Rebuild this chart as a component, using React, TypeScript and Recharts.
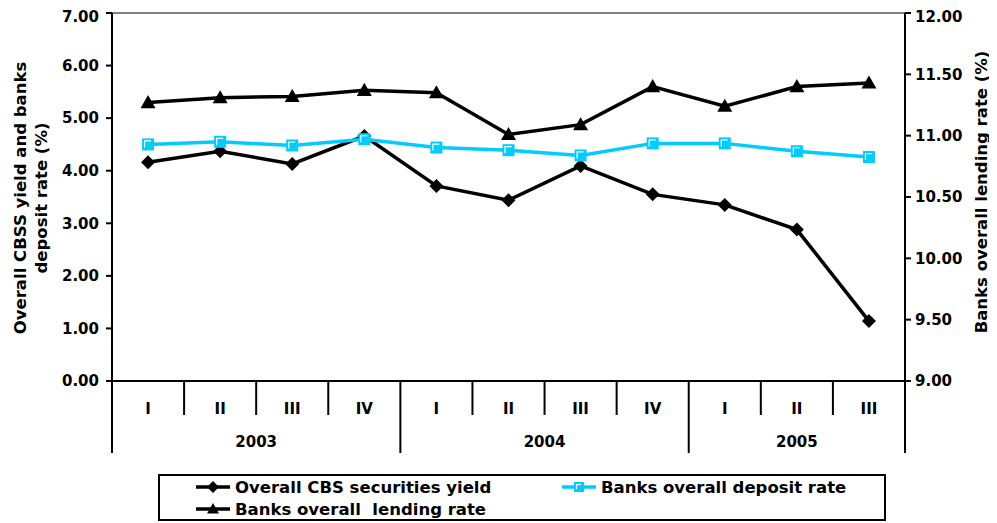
import React from 'react';
import {
  ComposedChart, Line, XAxis, YAxis, ReferenceLine,
} from 'recharts';

const quarters = ['I', 'II', 'III', 'IV', 'I', 'II', 'III', 'IV', 'I', 'II', 'III'];
const years = ['2003', '2003', '2003', '2003', '2004', '2004', '2004', '2004', '2005', '2005', '2005'];
const cbsYield = [4.16, 4.37, 4.13, 4.66, 3.71, 3.44, 4.09, 3.55, 3.35, 2.88, 1.14];
const depositRate = [4.5, 4.55, 4.48, 4.6, 4.44, 4.39, 4.29, 4.52, 4.52, 4.37, 4.26];
const lendingRate = [11.27, 11.31, 11.32, 11.37, 11.35, 11.01, 11.09, 11.4, 11.24, 11.4, 11.43];
const leftTicks = [0, 1, 2, 3, 4, 5, 6, 7];
const rightTicks = [9, 9.5, 10, 10.5, 11, 11.5, 12];

const data = quarters.map((q, i) => ({
  key: `${years[i]}-${q}-${i}`,
  quarter: q,
  year: years[i],
  cbs: cbsYield[i],
  deposit: depositRate[i],
  lending: lendingRate[i],
}));

const FONT = '"DejaVu Sans", Arial, sans-serif';
const CYAN = '#00CCFF';
const CHART_W = 981;
const CHART_H = 515;
const LEFT_W = 104;
const PLOT_W = 793;
const RIGHT_W = CHART_W - LEFT_W - PLOT_W;
// half of one category band
const HALF = PLOT_W / quarters.length / 2;

const Diamond = ({ cx, cy, s = 7 }: any) => (
  <path d={`M${cx},${cy - s}L${cx + s},${cy}L${cx},${cy + s}L${cx - s},${cy}Z`} fill="#000" />
);
const Triangle = ({ cx, cy, s = 7.5 }: any) => (
  <path d={`M${cx},${cy - s}L${cx + s},${cy + s * 0.75}L${cx - s},${cy + s * 0.75}Z`} fill="#000" />
);
const Square = ({ cx, cy, s = 6 }: any) => (
  <g>
    <rect x={cx - s} y={cy - s} width={s * 2} height={s * 2} fill={CYAN} />
    <path d={`M${cx - s + 2.5},${cy + s - 3}V${cy - s + 2.5}H${cx + s - 3}`} stroke="#fff" strokeWidth={1.2} fill="none" />
  </g>
);

const QuarterTick = (props: any) => {
  const { x, y, payload, index } = props;
  const i = index;
  const lastOfYear = i === years.length - 1 || years[i + 1] !== years[i];
  const firstOfYear = i === 0 || years[i - 1] !== years[i];
  let yearLabel = null;
  if (firstOfYear) {
    const count = years.filter((yy) => yy === years[i]).length;
    const cx = x - HALF + count * HALF;
    yearLabel = (
      <text x={cx} y={y + 66} textAnchor="middle" fontFamily={FONT} fontWeight="bold" fontSize={15} fill="#000">
        {years[i]}
      </text>
    );
  }
  return (
    <g>
      {i === 0 && <line x1={x - HALF} y1={y} x2={x - HALF} y2={y + 72} stroke="#000" strokeWidth={2} />}
      <line x1={x + HALF} y1={y} x2={x + HALF} y2={y + (lastOfYear ? 72 : 34)} stroke="#000" strokeWidth={2} />
      <text x={x} y={y + 33} textAnchor="middle" fontFamily={FONT} fontWeight="bold" fontSize={15} fill="#000">
        {payload.value}
      </text>
      {yearLabel}
    </g>
  );
};

const tickStyle = { fill: '#000', fontSize: 15, fontWeight: 'bold', fontFamily: FONT };

const LegendItem = ({ color, marker, label }: any) => (
  <div style={{ display: 'flex', alignItems: 'center', height: 22 }}>
    <svg width={34} height={16} style={{ marginRight: 5 }}>
      <line x1={0} y1={8} x2={34} y2={8} stroke={color} strokeWidth={3.5} />
      {marker === 'diamond' && <Diamond cx={17} cy={8} s={6} />}
      {marker === 'square' && <Square cx={17} cy={8} s={5} />}
      {marker === 'triangle' && <Triangle cx={17} cy={8} s={6} />}
    </svg>
    <span style={{ whiteSpace: 'pre' }}>{label}</span>
  </div>
);

const titleProps = {
  textAnchor: 'middle' as const,
  dominantBaseline: 'central' as const,
  fontFamily: FONT,
  fontWeight: 'bold',
  fontSize: 16.5,
  fill: '#000',
};

export default function App() {
  return (
    <div style={{ position: 'relative', width: CHART_W, height: CHART_H, fontFamily: FONT }}>
      <ComposedChart width={CHART_W} height={CHART_H} data={data} margin={{ top: 5, right: 0, bottom: 0, left: 0 }}>
        <XAxis
          dataKey="quarter"
          xAxisId="x"
          padding={{ left: HALF, right: HALF }}
          height={CHART_H - 373}
          tickSize={0}
          tickMargin={0}
          interval={0}
          axisLine={{ stroke: '#000', strokeWidth: 2 }}
          tickLine={false}
          tick={<QuarterTick />}
        />
        <YAxis
          yAxisId="left"
          domain={[0, 7]}
          ticks={leftTicks}
          width={LEFT_W}
          tickSize={6}
          tickMargin={7}
          tickFormatter={(v: number) => v.toFixed(2)}
          tick={tickStyle}
          axisLine={{ stroke: '#000', strokeWidth: 2 }}
          tickLine={{ stroke: '#000', strokeWidth: 2 }}
        />
        <YAxis
          yAxisId="right"
          orientation="right"
          domain={[9, 12]}
          ticks={rightTicks}
          width={RIGHT_W}
          tickSize={6}
          tickMargin={4}
          tickFormatter={(v: number) => v.toFixed(2)}
          tick={tickStyle}
          axisLine={{ stroke: '#000', strokeWidth: 2 }}
          tickLine={{ stroke: '#000', strokeWidth: 2 }}
        />
        <ReferenceLine yAxisId="left" xAxisId="x" y={7} stroke="#808080" strokeWidth={2} />
        <Line
          xAxisId="x"
          yAxisId="left"
          dataKey="cbs"
          stroke="#000"
          strokeWidth={3.5}
          isAnimationActive={false}
          dot={(p: any) => <Diamond key={`d${p.index}`} cx={p.cx} cy={p.cy} />}
        />
        <Line
          xAxisId="x"
          yAxisId="left"
          dataKey="deposit"
          stroke={CYAN}
          strokeWidth={3.5}
          isAnimationActive={false}
          dot={(p: any) => <Square key={`s${p.index}`} cx={p.cx} cy={p.cy} />}
        />
        <Line
          xAxisId="x"
          yAxisId="right"
          dataKey="lending"
          stroke="#000"
          strokeWidth={3.5}
          isAnimationActive={false}
          dot={(p: any) => <Triangle key={`t${p.index}`} cx={p.cx} cy={p.cy} />}
        />
        <text transform="translate(12,190) rotate(-90)" {...titleProps}>Overall CBSS yield and banks</text>
        <text transform="translate(33,190) rotate(-90)" {...titleProps}>deposit rate (%)</text>
        <text transform="translate(973,184) rotate(-90)" {...titleProps}>Banks overall lending rate (%)</text>
      </ComposedChart>
      <div
        style={{
          position: 'absolute',
          left: 150,
          top: 466,
          width: 724,
          height: 43,
          border: '2px solid #000',
          fontSize: 16.5,
          fontWeight: 'bold',
          color: '#000',
          boxSizing: 'content-box',
        }}
      >
        <div style={{ position: 'absolute', left: 36, top: 0 }}>
          <LegendItem color="#000" marker="diamond" label="Overall CBS securities yield" />
        </div>
        <div style={{ position: 'absolute', left: 402, top: 0 }}>
          <LegendItem color={CYAN} marker="square" label="Banks overall deposit rate" />
        </div>
        <div style={{ position: 'absolute', left: 36, top: 22 }}>
          <LegendItem color="#000" marker="triangle" label="Banks overall  lending rate" />
        </div>
      </div>
    </div>
  );
}
